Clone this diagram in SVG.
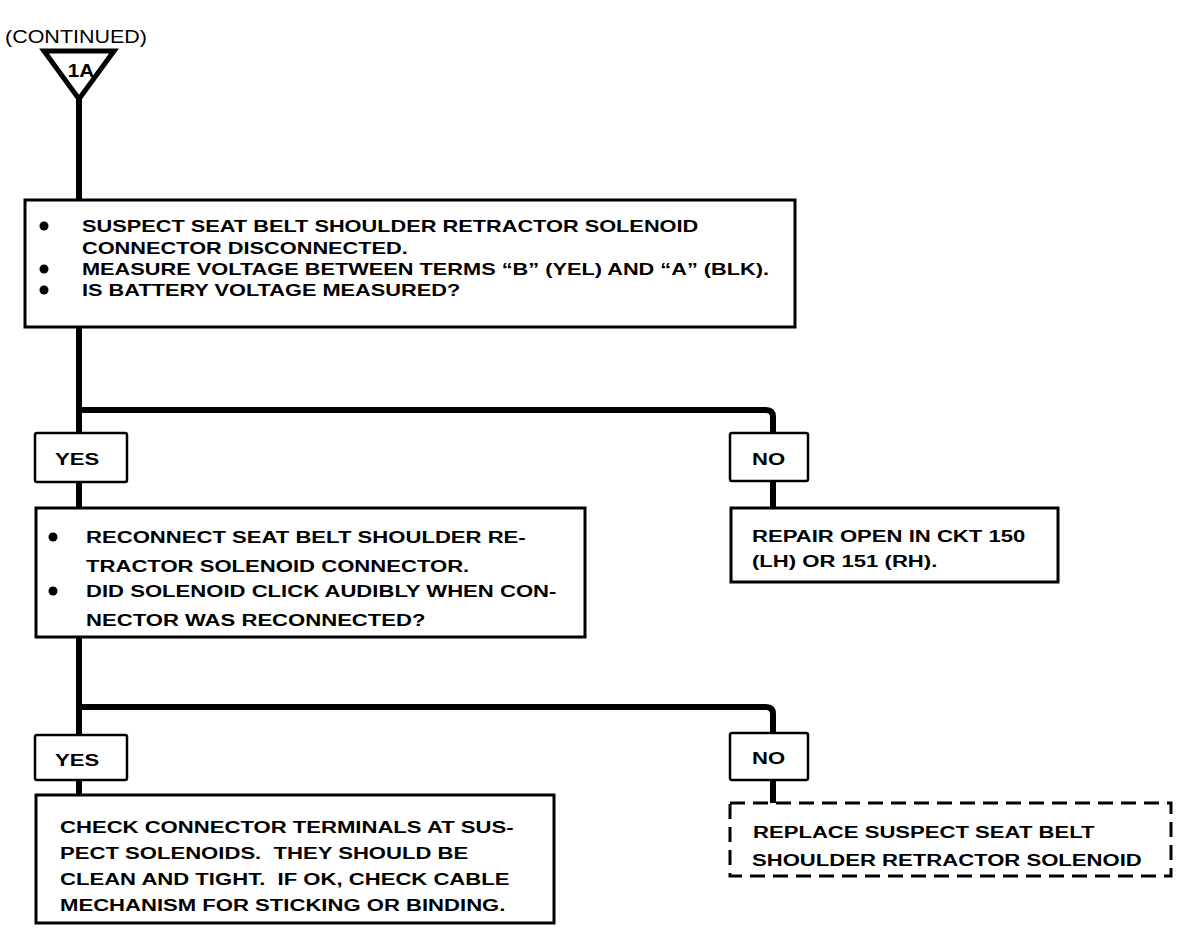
<svg xmlns="http://www.w3.org/2000/svg" width="1184" height="930" viewBox="0 0 1184 930">
<style>
.t{font-family:"Liberation Sans",Arial,Helvetica,sans-serif;font-weight:bold;font-size:17px;fill:#000;white-space:pre}
.box{fill:#fff;stroke:#000;stroke-width:3}
.dash{fill:#fff;stroke:#000;stroke-width:3;stroke-dasharray:15 8}
.lbl{fill:#fff;stroke:#000;stroke-width:2.5}
.wire{fill:none;stroke:#000;stroke-width:6;stroke-linejoin:round}
.dot{fill:#000}
</style>
<rect width="1184" height="930" fill="#fff"/>
<g id="connectors">
<path class="wire" d="M79,98 V200"/>
<path class="wire" d="M79,327 V508"/>
<path class="wire" d="M79,410 H766 Q773,410 773,417 V508"/>
<path class="wire" d="M79,637 V795"/>
<path class="wire" d="M79,707 H766 Q773,707 773,714 V803"/>
</g>
<g id="continued">
<text class="t" x="5" y="43" style="font-weight:normal;font-size:19px" textLength="142" lengthAdjust="spacingAndGlyphs">(CONTINUED)</text>
<path d="M44,51 H114 L79,99 Z" fill="#fff" stroke="#000" stroke-width="5" stroke-linejoin="miter"/>
<text class="t" transform="translate(81 77) scale(1.15 1)" text-anchor="middle" style="font-size:18px">1A</text>
</g>
<g id="q1">
<rect class="box" x="25" y="200" width="770" height="127"/>
<circle class="dot" cx="44" cy="226" r="4.5"/>
<circle class="dot" cx="44" cy="269" r="4.5"/>
<circle class="dot" cx="44" cy="290" r="4.5"/>
<text class="t" transform="translate(82 232) scale(1.28 1)">SUSPECT SEAT BELT SHOULDER RETRACTOR SOLENOID</text>
<text class="t" transform="translate(82 254) scale(1.28 1)">CONNECTOR DISCONNECTED.</text>
<text class="t" transform="translate(82 275) scale(1.28 1)">MEASURE VOLTAGE BETWEEN TERMS “B” (YEL) AND “A” (BLK).</text>
<text class="t" transform="translate(82 296) scale(1.28 1)">IS BATTERY VOLTAGE MEASURED?</text>
</g>
<g id="yes1">
<rect class="lbl" x="35" y="433" width="92" height="49" rx="2"/>
<text class="t" transform="translate(55 465) scale(1.3 1)">YES</text>
</g>
<g id="no1">
<rect class="lbl" x="730" y="433" width="78" height="48" rx="2"/>
<text class="t" transform="translate(752 465) scale(1.3 1)">NO</text>
</g>
<g id="q2">
<rect class="box" x="36" y="508" width="549" height="129"/>
<circle class="dot" cx="53" cy="537" r="4.5"/>
<circle class="dot" cx="53" cy="591" r="4.5"/>
<text class="t" transform="translate(86 543) scale(1.3 1)">RECONNECT SEAT BELT SHOULDER RE-</text>
<text class="t" transform="translate(86 572) scale(1.3 1)">TRACTOR SOLENOID CONNECTOR.</text>
<text class="t" transform="translate(86 597) scale(1.3 1)">DID SOLENOID CLICK AUDIBLY WHEN CON-</text>
<text class="t" transform="translate(86 626) scale(1.3 1)">NECTOR WAS RECONNECTED?</text>
</g>
<g id="repair">
<rect class="box" x="731" y="508" width="327" height="74"/>
<text class="t" transform="translate(752 542) scale(1.3 1)">REPAIR OPEN IN CKT 150</text>
<text class="t" transform="translate(752 567) scale(1.3 1)">(LH) OR 151 (RH).</text>
</g>
<g id="yes2">
<rect class="lbl" x="35" y="735" width="92" height="45" rx="2"/>
<text class="t" transform="translate(55 766) scale(1.3 1)">YES</text>
</g>
<g id="no2">
<rect class="lbl" x="730" y="733" width="78" height="47" rx="2"/>
<text class="t" transform="translate(752 764) scale(1.3 1)">NO</text>
</g>
<g id="check">
<rect class="box" x="36" y="795" width="518" height="128"/>
<text class="t" transform="translate(60 833) scale(1.3 1)">CHECK CONNECTOR TERMINALS AT SUS-</text>
<text class="t" transform="translate(60 859) scale(1.3 1)">PECT SOLENOIDS.  THEY SHOULD BE</text>
<text class="t" transform="translate(60 885) scale(1.3 1)">CLEAN AND TIGHT.  IF OK, CHECK CABLE</text>
<text class="t" transform="translate(60 911) scale(1.3 1)">MECHANISM FOR STICKING OR BINDING.</text>
</g>
<g id="replace">
<rect class="dash" x="730" y="803" width="441" height="73"/>
<text class="t" transform="translate(753 838) scale(1.3 1)">REPLACE SUSPECT SEAT BELT</text>
<text class="t" transform="translate(752 866) scale(1.3 1)">SHOULDER RETRACTOR SOLENOID</text>
</g>
</svg>
